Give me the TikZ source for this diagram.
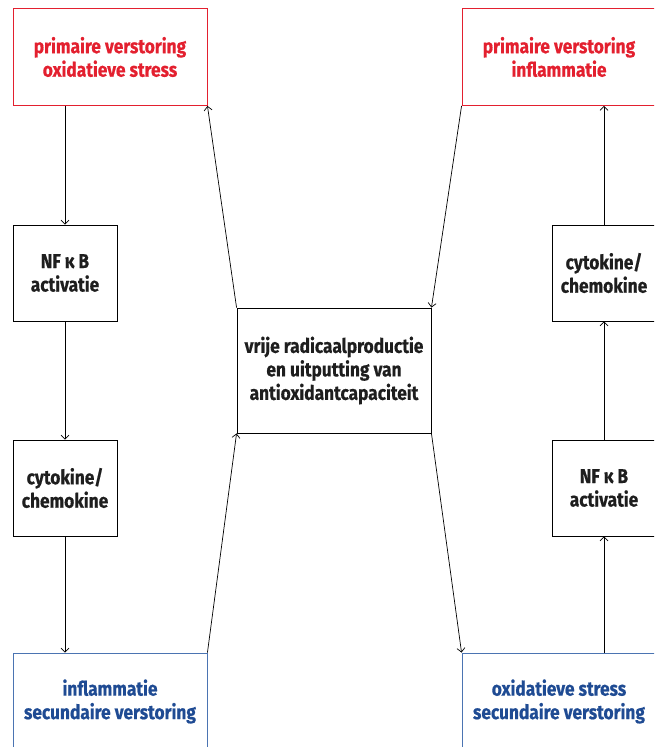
\documentclass[tikz,border=0pt]{standalone}
\usepackage{fontspec}
\setmainfont{Fira Sans}[FakeStretch=0.865, BoldFeatures={FakeBold=0.6}]
\usetikzlibrary{arrows.meta}
\definecolor{redc}{HTML}{E3202F}
\definecolor{bluet}{HTML}{1F4B93}
\definecolor{blueb}{HTML}{4B74B2}
\definecolor{txt}{HTML}{1E1E1E}
\begin{document}
\begin{tikzpicture}[x=1pt,y=-1pt,
  box/.style={draw=black, line width=0.9pt, inner sep=0pt, align=center,
    font=\fontsize{20}{23.5}\selectfont\bfseries, text=txt},
  redbox/.style={box, draw=redc, text=redc, minimum width=194pt, minimum height=97pt},
  bluebox/.style={box, draw=blueb, text=bluet, minimum width=194pt, minimum height=97pt},
  smallbox/.style={box, minimum width=104pt, minimum height=96pt},
  centerbox/.style={box, minimum width=194pt, minimum height=125pt},
  arr/.style={line width=0.7pt, -{Straight Barb[length=4pt,width=8pt]}}
]
\useasboundingbox (0,0) rectangle (654,747);
\clip (0,0) rectangle (654,747);
\node[redbox] (tl) at (110,57) {primaire verstoring\\oxidatieve stress};
\node[redbox] (tr) at (559,57) {primaire verstoring\\inflammatie};
\node[bluebox] (bl) at (110,701.5) {inflammatie\\secundaire verstoring};
\node[bluebox] (br) at (559,701.5) {oxidatieve stress\\secundaire verstoring};
\node[smallbox] (nf1) at (65,273) {NF κ B\\activatie};
\node[smallbox] (cy1) at (65,488) {cytokine/\\chemokine};
\node[smallbox] (cy2) at (604,273) {cytokine/\\chemokine};
\node[smallbox] (nf2) at (604,488) {NF κ B\\activatie};
\node[centerbox] (c) at (334,370.5) {vrije radicaalproductie\\en uitputting van\\antioxidantcapaciteit};
% left column
\draw[arr] (nf1.north |- tl.south) -- (nf1.north);
\draw[arr] (nf1.south) -- (cy1.north);
\draw[arr] (cy1.south) -- (cy1.south |- bl.north);
% right column
\draw[arr] (nf2.south |- br.north) -- (nf2.south);
\draw[arr] (nf2.north) -- (cy2.south);
\draw[arr] (cy2.north) -- (cy2.north |- tr.south);
% diagonals
\draw[arr] (c.north west) -- (tl.south east);
\draw[arr] (tr.south west) -- (c.north east);
\draw[arr] (bl.north east) -- (c.south west);
\draw[arr] (c.south east) -- (br.north west);
\end{tikzpicture}
\end{document}
